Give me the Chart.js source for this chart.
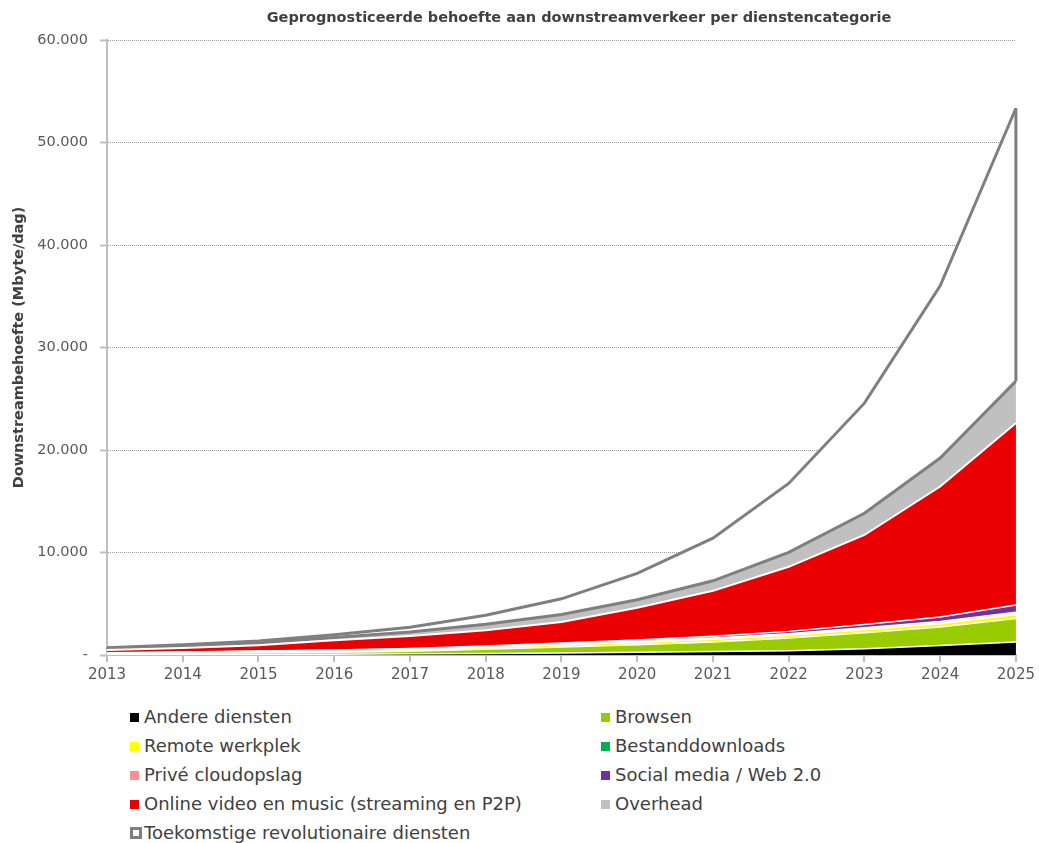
<!DOCTYPE html>
<html><head><meta charset="utf-8">
<script src="https://cdn.jsdelivr.net/npm/chart.js@4.4.1/dist/chart.umd.min.js"></script>
<style>
html,body{margin:0;padding:0;background:#fff;}
body{width:1039px;height:843px;position:relative;overflow:hidden;font-family:"DejaVu Sans",Verdana,sans-serif;}
#wrap{position:absolute;left:0;top:0;width:1039px;height:690px;}
#title{position:absolute;top:9px;left:0;width:1158px;text-align:center;font-weight:bold;font-size:14.5px;color:#404040;white-space:nowrap;}
.lg{position:absolute;font-size:18px;color:#404040;line-height:22px;white-space:nowrap;}
.lg i{display:inline-block;width:9px;height:9px;margin-right:5px;vertical-align:middle;position:relative;top:-1px;box-sizing:border-box;}
.lg i.hollow{width:12px;height:12px;margin-right:2px;border:3px solid #7f7f7f;background:#fff;}
</style>
</head><body>
<div id="wrap"><canvas id="c" width="1039" height="690"></canvas></div>
<div id="title">Geprognosticeerde behoefte aan downstreamverkeer per dienstencategorie</div>
<div id="legend"></div>
<script>
// ---- data ----
const years = ['2013','2014','2015','2016','2017','2018','2019','2020','2021','2022','2023','2024','2025'];
const andere   = [30,45,60,80,110,150,200,260,330,420,620,930,1270];
const browsen  = [80,110,150,190,250,410,580,740,940,1240,1560,1810,2290];
const remote   = [60,80,100,120,150,160,210,230,260,270,300,320,390];
const bestand  = [10,15,20,25,30,35,40,45,50,55,60,70,80];
const prive    = [20,25,30,40,50,60,70,80,90,100,110,130,150];
const social   = [10,15,20,30,40,60,80,110,150,220,320,450,700];
const video    = [280,400,570,950,1230,1550,2050,3140,4440,6300,8740,12730,17760];
const overhead = [160,190,250,270,390,580,720,780,980,1400,2120,2780,4080];
const toekomst = [50,120,170,260,450,880,1530,2580,4160,6730,10740,16800,26620];
const yTickLabels = ['-','10.000','20.000','30.000','40.000','50.000','60.000'];
const seriesNames = ['Andere diensten','Browsen','Remote werkplek','Bestanddownloads','Privé cloudopslag','Social media / Web 2.0','Online video en music (streaming en P2P)','Overhead','Toekomstige revolutionaire diensten'];
const seriesData = [andere,browsen,remote,bestand,prive,social,video,overhead,toekomst];

// ---- styles ----
const fills = ['#000000','#99cc00','#ffff00','#00b050','#ff8f8f','#7030a0','#ea0000','#c0c0c0','#ffffff'];
const lines = ['#ffffff','#ffffff','#ffffff','#ffffff','#ffffff','#ffffff','#ffffff','#7f7f7f','#7f7f7f'];
const widths = [1.5,1.5,1.5,1.5,1.5,1.5,2,3,3];
const FAM = '"DejaVu Sans", Verdana, sans-serif';

const datasets = seriesNames.map((n,i)=>({
  label:n, data:seriesData[i], backgroundColor:fills[i], borderColor:lines[i], borderWidth:widths[i],
  fill: i===0 ? 'origin' : '-1', pointRadius:0, pointHoverRadius:0, tension:0
}));

const edgePlugin = {id:'edge', afterDatasetsDraw(chart){
  const top = chart.getDatasetMeta(8).data, bot = chart.getDatasetMeta(7).data;
  const ctx = chart.ctx; ctx.save(); ctx.strokeStyle='#7f7f7f'; ctx.lineWidth=3;
  [0, top.length-1].forEach(i=>{ctx.beginPath();ctx.moveTo(top[i].x, top[i].y);ctx.lineTo(bot[i].x, bot[i].y);ctx.stroke();});
  ctx.restore();
}};

new Chart(document.getElementById('c'), {
  type:'line',
  data:{labels:years, datasets},
  options:{
    responsive:false, animation:false, devicePixelRatio:1,
    layout:{padding:{top:40,right:19,bottom:5,left:0}},
    plugins:{legend:{display:false}, tooltip:{enabled:false}, title:{display:false}},
    scales:{
      x:{
        ticks:{color:'#595959',font:{size:15,family:FAM},padding:4,maxRotation:0,autoSkip:false},
        grid:{drawOnChartArea:false,drawTicks:true,tickLength:7,color:'#bfbfbf',tickColor:'#bfbfbf',lineWidth:2},
        border:{color:'#bfbfbf',width:2},
        afterFit(s){s.height=30;}
      },
      y:{
        stacked:true, min:0, max:60000,
        ticks:{stepSize:10000,color:'#595959',font:{size:14.5,family:FAM},padding:12,
          callback:(v)=>yTickLabels[Math.round(v/10000)]},
        grid:{color:'#9a9a9a',lineWidth:1,tickLength:7,tickColor:'#bfbfbf',tickWidth:2,tickBorderDash:[]},
        border:{display:true,color:'#bfbfbf',width:2,dash:[1,1]},
        title:{display:true,text:'Downstreambehoefte (Mbyte/dag)',color:'#404040',font:{size:14.5,weight:'bold',family:FAM},padding:{top:11,bottom:0}},
        afterFit(s){s.width=107;}
      }
    }
  },
  plugins:[edgePlugin]
});

// ---- HTML legend (two columns, row-major) ----
const lg = document.getElementById('legend');
seriesNames.forEach((n,i)=>{
  const col = i%2, row = Math.floor(i/2);
  const d = document.createElement('div');
  d.className='lg';
  d.style.left = (col===0?130:601)+'px';
  d.style.top = (706 + row*29)+'px';
  const m = document.createElement('i');
  if(i===8){m.className='hollow';} else {m.style.background=fills[i];}
  d.appendChild(m);
  d.appendChild(document.createTextNode(n));
  lg.appendChild(d);
});
</script>
</body></html>
